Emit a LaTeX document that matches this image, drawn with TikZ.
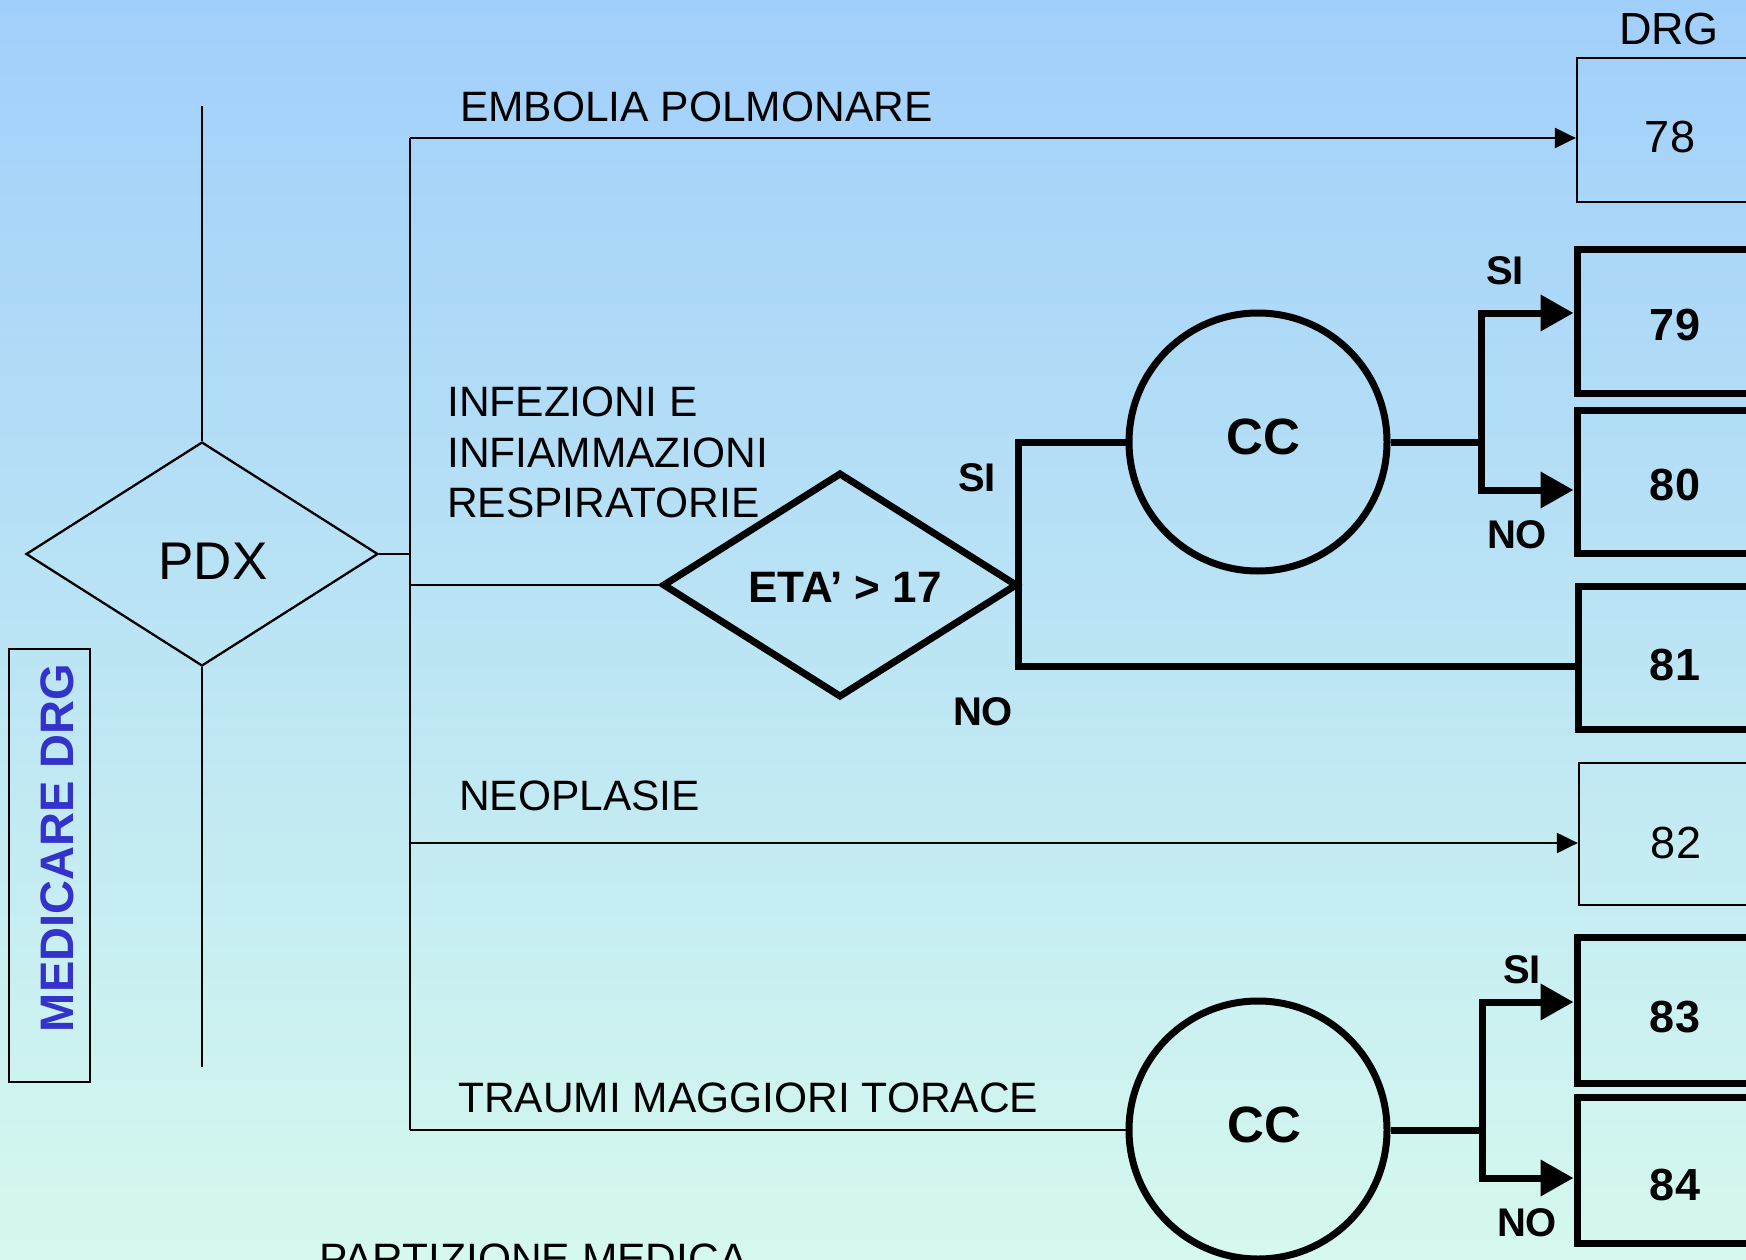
\documentclass[tikz,border=0pt]{standalone}
\usepackage{fontspec}
\setmainfont{Liberation Sans}
\usetikzlibrary{shapes.geometric,arrows.meta}
\definecolor{bgtop}{RGB}{161,207,251}
\definecolor{bgbot}{RGB}{213,249,238}
\definecolor{medblue}{RGB}{51,51,204}
\begin{document}
\begin{tikzpicture}[x=1pt,y=-1pt,
 thinln/.style={line width=2.3pt},
 thickln/.style={line width=7pt},
 thinarrow/.style={thinln,-{Triangle[length=21pt,width=20pt]}},
 thickarrow/.style={thickln,-{Triangle[length=33pt,width=35pt]}},
 lbl/.style={font=\fontsize{42.5}{51}\selectfont, inner sep=0pt, anchor=base west},
 num/.style={font=\fontsize{45}{54}\selectfont, inner sep=0pt},
 bnum/.style={font=\bfseries\fontsize{45}{54}\selectfont, inner sep=0pt},
 yn/.style={font=\bfseries\fontsize{40}{48}\selectfont, inner sep=0pt},
 thinbox/.style={draw, thinln, rectangle, minimum width=196pt, inner sep=0pt},
 thickbox/.style={draw, thickln, rectangle, minimum width=196pt, inner sep=0pt},
 ccnode/.style={draw, thickln, circle, minimum size=258pt, inner sep=0pt},
 cctext/.style={font=\bfseries\fontsize{51}{60}\selectfont, inner sep=0pt},
]
\useasboundingbox (0,0) rectangle (1746,1260);
\begin{scope}
\clip (0,0) rectangle (1746,1260);
\shade[top color=bgtop, bottom color=bgbot] (0,0) rectangle (1746,1260);

% coordinates
\coordinate (t1) at (410,138);
\coordinate (t2) at (410,585);
\coordinate (t3) at (410,843);
\coordinate (t4) at (410,1130);
\coordinate (v1) at (202,106);
\coordinate (v2) at (202,1067);
\coordinate (e1) at (1018,442);
\coordinate (e2) at (1018,666);
\coordinate (j1) at (1481,442);
\coordinate (a79) at (1481,313);
\coordinate (a80) at (1481,490);
\coordinate (j2) at (1482,1130);
\coordinate (a83) at (1482,1002);
\coordinate (a84) at (1482,1178);

% PDX diamond
\node[draw, thinln, diamond, minimum width=352pt, minimum height=224pt, inner sep=0pt] (pdx) at (202,554) {};
\node[font=\fontsize{53}{60}\selectfont, inner sep=0pt] (tpdx) at (213,561) {PDX};

% MEDICARE DRG
\node[draw, thinln, rectangle, minimum width=81pt, minimum height=433pt, inner sep=0pt] (mbox) at (49.5,865.5) {};
\node[rotate=90, text=medblue, font=\bfseries\fontsize{47}{56}\selectfont, inner sep=0pt] (mtxt) at (57,848) {MEDICARE DRG};

% boxes
\node[num] (drg) at (1669,29) {DRG};
\node[thinbox, minimum height=144pt] (n78) at (1675,130) {};
\node[num] (t78) at (1670,137) {78};
\node[thickbox, minimum height=143pt] (n79) at (1675,321.5) {};
\node[bnum] (t79) at (1675,325) {79};
\node[thickbox, minimum height=143pt] (n80) at (1675,481.5) {};
\node[bnum] (t80) at (1675,485) {80};
\node[thickbox, minimum height=143pt] (n81) at (1676,657.5) {};
\node[bnum] (t81) at (1675,665) {81};
\node[thinbox, minimum height=142pt] (n82) at (1677,834) {};
\node[num] (t82) at (1676,843) {82};
\node[thickbox, minimum height=146pt] (n83) at (1675,1010) {};
\node[bnum] (t83) at (1675,1017) {83};
\node[thickbox, minimum height=146pt] (n84) at (1675,1170) {};
\node[bnum] (t84) at (1675,1185) {84};

% ETA diamond and CC circles
\node[draw, thickln, diamond, minimum width=355pt, minimum height=225pt, inner sep=0pt] (eta) at (840,585) {};
\node[font=\bfseries\fontsize{44}{52}\selectfont, inner sep=0pt] (teta) at (845,587) {ETA’ > 17};
\node[ccnode] (cc1) at (1258,442) {};
\node[cctext] (tcc1) at (1263,437) {CC};
\node[ccnode] (cc2) at (1258,1130) {};
\node[cctext] (tcc2) at (1264,1125) {CC};

% labels
\node[lbl] (lemb) at (460,122) {EMBOLIA POLMONARE};
\node[lbl] (linf1) at (447,416) {INFEZIONI E};
\node[lbl] (linf2) at (447,467) {INFIAMMAZIONI};
\node[lbl] (linf3) at (447,517) {RESPIRATORIE};
\node[lbl] (lneo) at (459,810) {NEOPLASIE};
\node[lbl] (ltra) at (458,1112) {TRAUMI MAGGIORI TORACE};
\node[lbl] (lpart) at (319,1273) {PARTIZIONE MEDICA};

\node[yn] (si1) at (977,478) {SI};
\node[yn] (no1) at (983,712) {NO};
\node[yn] (si2) at (1505,271) {SI};
\node[yn] (no2) at (1517,535) {NO};
\node[yn] (si3) at (1522,970) {SI};
\node[yn] (no3) at (1527,1223) {NO};

% thin connectors
\draw[thinln] (v1) -- (pdx.north);
\draw[thinln] (pdx.south) -- (v2);
\draw[thinln] (pdx.east) -- (pdx.east -| t1);
\draw[thinln] (t1) -- (t4);
\draw[thinarrow] (t1) -- (t1 -| n78.west);
\draw[thinln] (t2) -- (eta.west);
\draw[thinarrow] (t3) -- (t3 -| n82.west);
\draw[thinln] (t4) -- (cc2.west);

% thick connectors
\draw[thickln] (cc1.west) -- (e1) -- (e2) -- (e2 -| n81.west);
\draw[thickln] (eta.east) -- (eta.east -| e1);
\draw[thickln] (cc1.east) -- (j1);
\draw[thickarrow] (j1) -- (a79) -- (a79 -| n79.west);
\draw[thickarrow] (j1) -- (a80) -- (a80 -| n80.west);
\draw[thickln] (cc2.east) -- (j2);
\draw[thickarrow] (j2) -- (a83) -- (a83 -| n83.west);
\draw[thickarrow] (j2) -- (a84) -- (a84 -| n84.west);
\end{scope}
\end{tikzpicture}
\end{document}
